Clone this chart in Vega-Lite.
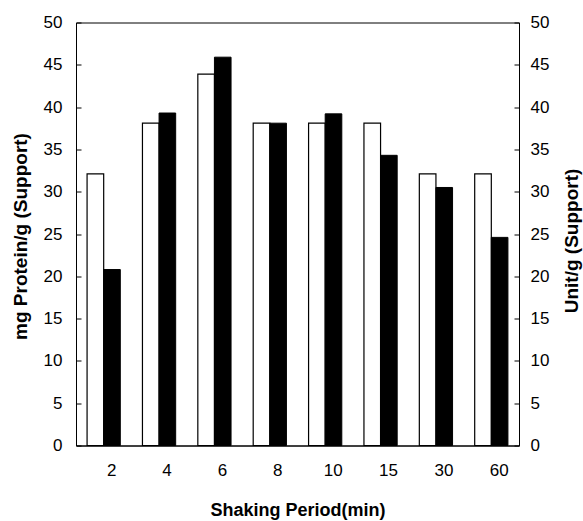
{
  "$schema": "https://vega.github.io/schema/vega-lite/v6.json",
  "width": 443,
  "height": 423,
  "autosize": "none",
  "padding": {"left": 76, "top": 22.5, "right": 64, "bottom": 75.5},
  "background": "white",
  "config": {
    "font": "Liberation Sans",
    "view": {"stroke": "black", "strokeWidth": 1},
    "axis": {
      "grid": false,
      "labelFont": "Liberation Sans",
      "labelFontSize": 17,
      "labelColor": "black",
      "titleFont": "Liberation Sans",
      "titleFontSize": 19,
      "titleFontWeight": "bold",
      "titleColor": "black",
      "domainColor": "black",
      "tickColor": "black"
    }
  },
  "data": {
    "values": [
      {"period": "2", "protein": 32.1, "unit": 20.8},
      {"period": "4", "protein": 38.1, "unit": 39.3},
      {"period": "6", "protein": 43.9, "unit": 45.9},
      {"period": "8", "protein": 38.1, "unit": 38.1},
      {"period": "10", "protein": 38.1, "unit": 39.2},
      {"period": "15", "protein": 38.1, "unit": 34.3},
      {"period": "30", "protein": 32.1, "unit": 30.5},
      {"period": "60", "protein": 32.1, "unit": 24.6}
    ]
  },
  "transform": [{"fold": ["protein", "unit"], "as": ["series", "value"]}],
  "encoding": {
    "x": {
      "field": "period",
      "type": "ordinal",
      "sort": null,
      "scale": {"paddingInner": 0.4, "paddingOuter": 0.2},
      "axis": {
        "title": "Shaking Period(min)",
        "titleFontSize": 18,
        "labelAngle": 0,
        "ticks": false,
        "labelPadding": 17,
        "labelOffset": 8,
        "titleY": 70,
        "titleBaseline": "alphabetic"
      }
    },
    "xOffset": {
      "field": "series",
      "type": "nominal",
      "scale": {"domain": ["protein", "unit"], "paddingInner": 0, "paddingOuter": 0}
    }
  },
  "layer": [
    {
      "transform": [{"filter": "datum.series === 'protein'"}],
      "mark": {"type": "bar", "fill": "white", "stroke": "black", "strokeWidth": 1.2},
      "encoding": {
        "y": {
          "field": "value",
          "type": "quantitative",
          "scale": {"domain": [0, 50]},
          "axis": {
            "title": "mg Protein/g (Support)",
            "values": [0, 5, 10, 15, 20, 25, 30, 35, 40, 45, 50],
            "tickSize": -5,
            "labelPadding": 19,
            "titleAngle": -90,
            "titleX": -49.5,
            "titleY": 213.5,
            "titleBaseline": "alphabetic",
            "titleAlign": "center"
          }
        }
      }
    },
    {
      "transform": [{"filter": "datum.series === 'unit'"}],
      "mark": {"type": "bar", "fill": "black", "stroke": "black", "strokeWidth": 1},
      "encoding": {
        "y": {
          "field": "value",
          "type": "quantitative",
          "scale": {"domain": [0, 50]},
          "axis": {
            "orient": "right",
            "title": "Unit/g (Support)",
            "titleFontSize": 19,
            "values": [0, 5, 10, 15, 20, 25, 30, 35, 40, 45, 50],
            "tickSize": -5,
            "labelPadding": 16,
            "titleAngle": -90,
            "titleX": 58,
            "titleY": 218,
            "titleBaseline": "alphabetic",
            "titleAlign": "center"
          }
        }
      }
    }
  ],
  "resolve": {"scale": {"y": "independent"}}
}
